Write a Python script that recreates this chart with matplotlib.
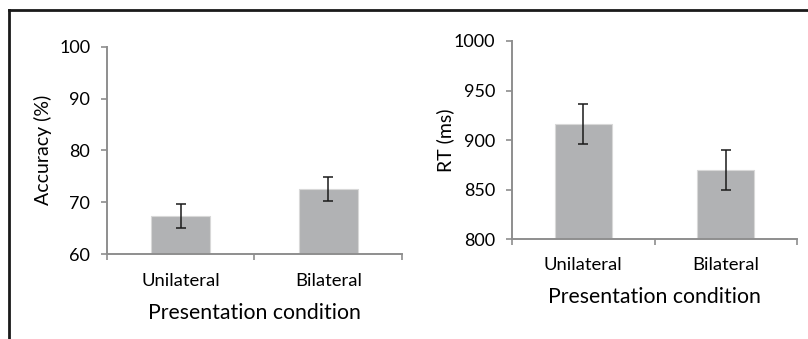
import matplotlib.pyplot as plt
from matplotlib.lines import Line2D

conditions = ['Unilateral', 'Bilateral']
accuracy = [67.3, 72.6]
accuracy_err = [2.3, 2.3]
rt = [916.3, 869.9]
rt_err = [20.3, 20.2]

BAR = '#b1b2b4'
AXIS = '#8e8e8e'
FONT = ['Lato', 'DejaVu Sans']

plt.rcParams['font.family'] = FONT
plt.rcParams['text.color'] = '#1a1a1a'

fig = plt.figure(figsize=(8.08, 3.39), dpi=100)
ax1 = fig.add_axes([0.1324, 0.2507, 0.3651, 0.6115])
ax2 = fig.add_axes([0.6337, 0.2941, 0.3527, 0.5850])


def draw(ax, vals, errs, ylim, step, ylabel, ylabelpad, xpad):
    x = list(range(len(conditions)))
    ax.bar(x, [v - ylim[0] for v in vals], bottom=ylim[0], width=0.4, color=BAR,
           edgecolor='#d8d8d8', linewidth=0.8, zorder=2)
    ax.errorbar(x, vals, yerr=errs, fmt='none', ecolor='#1a1a1a', elinewidth=1.1,
                capsize=3.5, capthick=1.1, zorder=3)
    ax.set_xlim(-0.5, len(conditions) - 0.5)
    ax.set_ylim(*ylim)
    ax.set_yticks(range(ylim[0], ylim[1] + 1, step))
    ax.set_xticks(x)
    ax.set_xticklabels(conditions, fontsize=13.3)
    ax.set_xticks([-0.5, 0.5, 1.5], minor=True)
    ax.tick_params(axis='x', which='major', length=0, pad=xpad)
    ax.tick_params(axis='x', which='minor', length=4, color=AXIS, width=1.2)
    ax.tick_params(axis='y', length=4, color=AXIS, width=1.2, labelsize=13, pad=8)
    for s in ['top', 'right']:
        ax.spines[s].set_visible(False)
    for s in ['left', 'bottom']:
        ax.spines[s].set_color(AXIS)
        ax.spines[s].set_linewidth(1.4)
    ax.set_ylabel(ylabel, fontsize=14, labelpad=ylabelpad)
    ax.set_xlabel('Presentation condition', fontsize=15.3, labelpad=10)


draw(ax1, accuracy, accuracy_err, (60, 100), 10, 'Accuracy (%)', 5, 14)
draw(ax2, rt, rt_err, (800, 1000), 50, 'RT (ms)', 0, 13)

# frame lines from the source figure
fig.add_artist(Line2D([0.0111, 1.0], [0.9705, 0.9705], color='#1a1a1a', lw=2, transform=fig.transFigure))
fig.add_artist(Line2D([0.0111, 0.0111], [0.0, 0.9705], color='#1a1a1a', lw=2, transform=fig.transFigure))

fig.savefig('out.png', dpi=100)
